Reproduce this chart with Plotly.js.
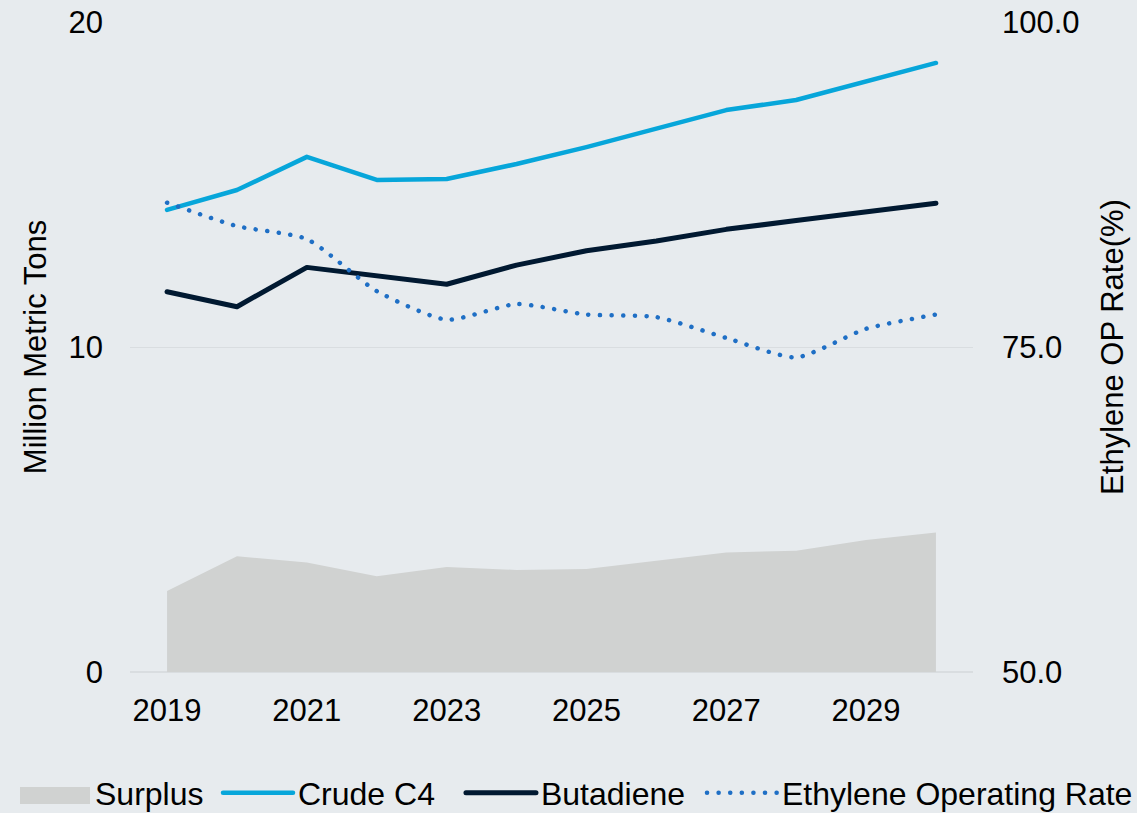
<!DOCTYPE html>
<html>
<head>
<meta charset="utf-8">
<script src="https://cdn.plot.ly/plotly-3.0.1.min.js"></script>
<style>
  html, body { margin: 0; padding: 0; background: #e7ebee; }
  #chart { width: 1137px; height: 813px; }
  .js-line { stroke-linecap: round !important; stroke-linejoin: round !important; }
  .legendfill path { transform: scaleY(2.85); }
</style>
</head>
<body>
<div id="chart"></div>
<script>
const years = [2019, 2020, 2021, 2022, 2023, 2024, 2025, 2026, 2027, 2028, 2029, 2030];
const surplus = [2.49, 3.56, 3.37, 2.95, 3.23, 3.14, 3.17, 3.42, 3.68, 3.73, 4.06, 4.29];
const crudeC4 = [14.22, 14.83, 15.85, 15.14, 15.17, 15.63, 16.15, 16.71, 17.29, 17.60, 18.18, 18.74];
const butadiene = [11.70, 11.24, 12.45, 12.19, 11.93, 12.52, 12.96, 13.26, 13.62, 13.89, 14.15, 14.42];
const ethyleneRate = [86.1, 84.3, 83.3, 79.3, 77.1, 78.3, 77.5, 77.3, 75.7, 74.2, 76.4, 77.5];
const xTicks = [2019, 2021, 2023, 2025, 2027, 2029];
const yTicks = [0, 10, 20];
const y2Ticks = [50, 75, 100];

const FONT = '"Liberation Sans", Arial, sans-serif';
const FS = 31;
const LFS = 32;

const traces = [
  {
    x: years, y: surplus, name: 'Surplus', type: 'scatter', mode: 'lines',
    fill: 'tozeroy', fillcolor: '#d0d2d1', line: {width: 0, color: '#d0d2d1'},
    legend: 'legend'
  },
  {
    x: years, y: crudeC4, name: 'Crude C4', type: 'scatter', mode: 'lines',
    line: {color: '#07a6da', width: 4.5}, legend: 'legend2'
  },
  {
    x: years, y: butadiene, name: 'Butadiene', type: 'scatter', mode: 'lines',
    line: {color: '#011931', width: 5}, legend: 'legend3'
  },
  {
    x: years, y: ethyleneRate, name: 'Ethylene Operating Rate', type: 'scatter', mode: 'lines',
    yaxis: 'y2', legend: 'legend4',
    line: {color: '#1f6fc5', width: 4.5, dash: '0.1px,11.5px', shape: 'spline', smoothing: 0.6}
  }
];

function leg(x) {
  return {
    orientation: 'h', x: x, xanchor: 'left', y: -0.186, yanchor: 'middle',
    font: {family: FONT, size: LFS, color: '#000000'},
    itemwidth: 70, bgcolor: 'rgba(0,0,0,0)', borderwidth: 0
  };
}

const layout = {
  width: 1137, height: 813,
  paper_bgcolor: '#e7ebee', plot_bgcolor: '#e7ebee',
  font: {family: FONT, size: FS, color: '#000000'},
  margin: {l: 130, r: 164, t: 22, b: 141, autoexpand: false},
  showlegend: true,
  legend: leg(-0.1364),
  legend2: leg(0.1044),
  legend3: leg(0.3926),
  legend4: leg(0.6785),
  xaxis: {
    range: [2018.47, 2030.53], tickmode: 'array', tickvals: xTicks,
    ticktext: xTicks.map(String),
    showgrid: false, zeroline: false, showline: false, ticks: '',
    ticklabelstandoff: 17,
    tickfont: {family: FONT, size: FS, color: '#000'}
  },
  yaxis: {
    range: [0, 20], tickmode: 'array', tickvals: yTicks,
    showgrid: true, gridcolor: '#d9dde0', gridwidth: 1,
    zeroline: true, zerolinecolor: '#d9dde0', zerolinewidth: 1.5,
    showline: false, ticks: '', ticklabelstandoff: 26,
    tickfont: {family: FONT, size: FS, color: '#000'},
    title: {text: 'Million Metric Tons', font: {family: FONT, size: FS, color: '#000'}, standoff: 12}
  },
  yaxis2: {
    range: [50, 100], overlaying: 'y', side: 'right', tickmode: 'array',
    tickvals: y2Ticks, ticktext: y2Ticks.map(v => v.toFixed(1)),
    showgrid: false, zeroline: false, showline: false, ticks: '', ticklabelstandoff: 28,
    tickfont: {family: FONT, size: FS, color: '#000'},
    title: {text: 'Ethylene OP Rate(%)', font: {family: FONT, size: FS, color: '#000'}, standoff: 22}
  }
};

Plotly.newPlot('chart', traces, layout, {staticPlot: true, displayModeBar: false});
</script>
</body>
</html>
